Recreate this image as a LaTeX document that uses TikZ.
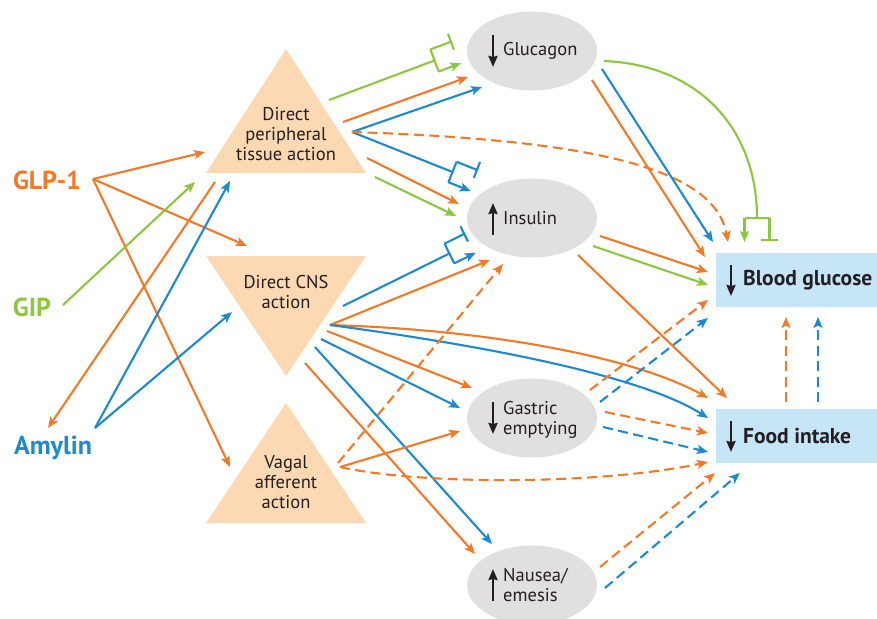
\documentclass[tikz,border=0pt]{standalone}
\usepackage{fontspec}
\setmainfont{PT Sans}
\usetikzlibrary{arrows.meta,calc,shapes.geometric}
\definecolor{cor}{RGB}{241,121,40}
\definecolor{cbl}{RGB}{28,138,204}
\definecolor{cgr}{RGB}{141,198,63}
\definecolor{cpe}{RGB}{252,217,178}
\definecolor{cgy}{RGB}{224,224,224}
\definecolor{clb}{RGB}{198,229,247}
\definecolor{ctx}{RGB}{35,31,32}
\tikzset{
  ln/.style={line width=2.1pt},
  con/.style={ln,-{Stealth[length=11pt,width=9pt,inset=2.5pt]}},
  dsh/.style={dash pattern=on 10pt off 5.5pt},
  O/.style={con,draw=cor,color=cor},
  B/.style={con,draw=cbl,color=cbl},
  G/.style={con,draw=cgr,color=cgr},
  src/.style={font=\fontsize{26}{26}\selectfont\bfseries, inner sep=0pt},
  tri/.style={align=center, text=ctx, font=\fontsize{18.5}{20}\selectfont, inner sep=0pt},
  ell/.style={ellipse, fill=cgy, minimum width=130pt, minimum height=79pt, inner sep=0pt},
  elab/.style={anchor=west, align=left, text=ctx, font=\fontsize{18.5}{20}\selectfont, inner sep=0pt},
  box/.style={fill=clb, minimum width=166pt, minimum height=54pt, anchor=north west, inner sep=0pt},
  blab/.style={anchor=west, text=ctx, font=\fontsize{21.5}{24}\selectfont\bfseries, inner sep=0pt},
  ind/.style={line width=2.3pt, ctx, -{Stealth[length=11pt,width=9pt,inset=1pt]}},
}
\newcommand\brk[4]{%
  \draw[ln,#1] (#2) -- (#3);
  \draw[ln,#1] ($(#3)!#4pt!-90:(#2)$) -- ($(#3)!#4pt!90:(#2)$);
  \draw[ln,#1,-{Bar[width=17pt]}] let \p1=($(#3)-(#2)$), \n1={atan2(\y1,\x1)} in
    ($(#3)!#4pt!-90:(#2)$) -- ++(\n1:23pt);
  \draw[ln,#1,-{Stealth[length=11pt,width=9pt,inset=2.5pt]}] let \p1=($(#3)-(#2)$), \n1={atan2(\y1,\x1)} in
    ($(#3)!#4pt!90:(#2)$) -- ++(\n1:24pt);
}
\begin{document}
\begin{tikzpicture}[x=1pt,y=-1pt]
\useasboundingbox (0,0) rectangle (877,618);
% triangles
\fill[cpe] (286,49) -- (366,173) -- (206,173) -- cycle;
\fill[cpe] (206,256) -- (366,256) -- (286,376) -- cycle;
\fill[cpe] (286,403) -- (366,523) -- (206,523) -- cycle;
\node[tri] (per) at (286,134) {Direct\\peripheral\\tissue action};
\node[tri] (cns) at (286,292) {Direct CNS\\action};
\node[tri] (vag) at (286,482) {Vagal\\afferent\\action};
% ellipses
\node[ell] (glu) at (532,51) {};
\node[ell] (ins) at (532,218) {};
\node[ell] (gas) at (532,418) {};
\node[ell] (nau) at (532,585) {};
\node[elab] (gluT) at (503,51) {Glucagon};
\node[elab] (insT) at (503,218) {Insulin};
\node[elab] (gasT) at (503,420) {Gastric\\emptying};
\node[elab] (nauT) at (503,585) {Nausea/\\emesis};
\draw[ind] (493,35) -- (493,67);
\draw[ind] (493,235) -- (493,203);
\draw[ind] (493,402) -- (493,434);
\draw[ind] (493,601) -- (493,569);
% boxes
\node[box] (bg) at (716,253) {};
\node[box] (fi) at (716,409) {};
\node[blab] (bgT) at (743,280) {Blood glucose};
\node[blab] (fiT) at (743,436) {Food intake};
\draw[ind] (731,265) -- (731,296);
\draw[ind] (731,421) -- (731,452);
% sources
\node[src,cor] (glp) at (47,180) {GLP-1};
\node[src,cgr] (gip) at (32,307) {GIP};
\node[src,cbl] (amy) at (53,448) {Amylin};
% coordinates
\coordinate (glpO) at (93,179);
\coordinate (gipO) at (63,305);
\coordinate (amyO) at (95,428);
\coordinate (perO) at (352,132);
\coordinate (cnsO) at (330,325);
\coordinate (vagO) at (340,467);
% source connectors
\draw[O] (glpO) -- (205,152);
\draw[O] (glpO) -- (247,246);
\draw[O] (glpO) -- (230,467);
\draw[G] (gipO) -- (195,182);
\draw[B] (amyO) -- (230,181);
\draw[B] (amyO) -- (232,312);
\draw[O] (215,182) -- (48,428);
% peripheral
\brk{cgr}{329,100}{434.5,60.5}{11.8}
\draw[O] (343,122) -- (468,77);
\draw[B] (perO) -- (482,87);
\brk{cbl}{perO}{452.5,172}{11}
\draw[O,dsh] (perO) .. controls (600,140) and (715,170) .. (728,242);
\draw[O] (367,158) -- (459,204);
\draw[G] (375,177) -- (456,216);
% glucagon
\draw[O] (592,80) -- (705,257);
\draw[B] (602,69) -- (713,242);
\draw[ln,cgr] (604,61) .. controls (700,65) and (757,130) .. (757,218);
\brk{cgr}{757,205}{757,218}{12.5}
% insulin
\draw[O] (600,236) -- (708,272);
\draw[G] (593,246) -- (708,285);
\draw[O] (578,255) -- (727,398);
% CNS
\brk{cbl}{343,306}{449.4,253.5}{11}
\draw[O] (cnsO) -- (490,260);
\draw[O] (cnsO) .. controls (500,330) and (640,360) .. (708,398);
\draw[B] (cnsO) .. controls (480,345) and (640,375) .. (708,418);
\draw[O] (327,331) -- (472,388);
\draw[B] (321,339) -- (460,408);
\draw[B] (315,347) -- (492,544);
\draw[O] (305,363) -- (475,554);
% vagal
\draw[O,dsh] (338,463) -- (503,264);
\draw[O] (vagO) -- (460,431);
\draw[O,dsh] (vagO) .. controls (420,485) and (600,485) .. (708,462);
% gastric
\draw[O,dsh] (590,390) -- (708,300);
\draw[B,dsh] (600,402) -- (708,318);
\draw[O,dsh] (605,412) -- (708,433);
\draw[B,dsh] (603,427) -- (708,452);
% nausea
\draw[O,dsh] (600,567) -- (715,473);
\draw[B,dsh] (605,588) -- (740,473);
% food intake -> blood glucose
\draw[O,dsh] (786,402) -- (786,317);
\draw[B,dsh] (818,402) -- (818,317);
\end{tikzpicture}
\end{document}
